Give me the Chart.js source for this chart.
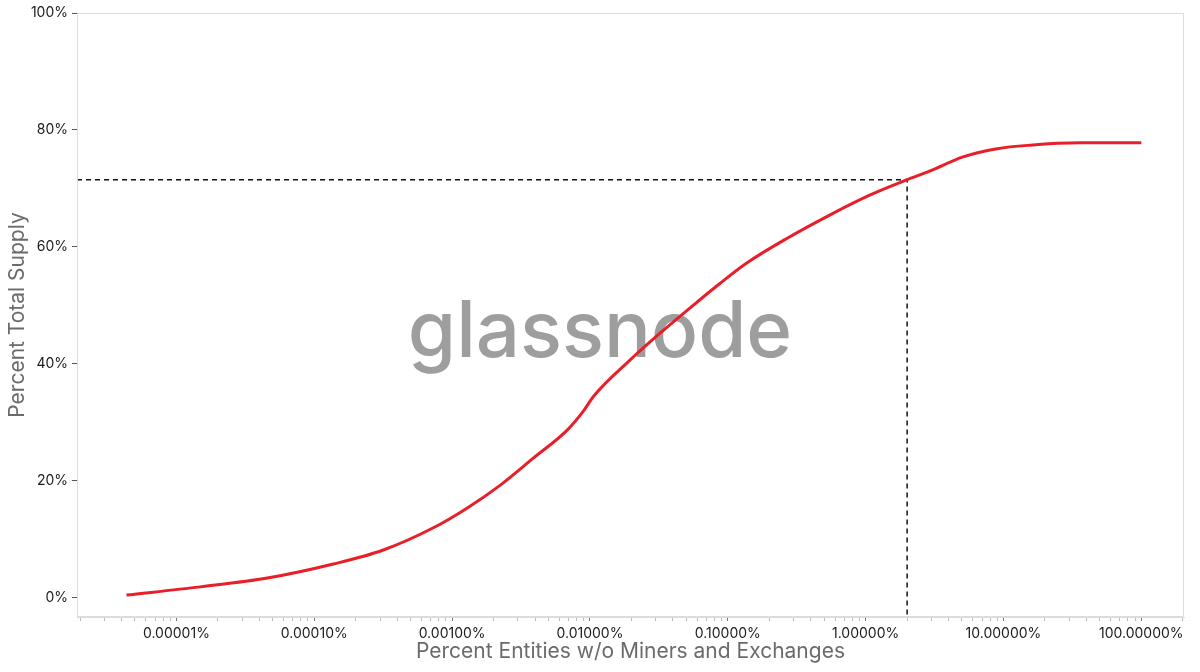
<!DOCTYPE html>
<html>
<head>
<meta charset="utf-8">
<script src="https://cdn.jsdelivr.net/npm/chart.js@4"></script>
<style>
  html, body { margin: 0; padding: 0; background: #fff; }
  #wrap { width: 1200px; height: 672px; }
</style>
</head>
<body>
<div id="wrap"><canvas id="supplyChart"></canvas></div>
<script>
// share of entities (% , log scale) vs cumulative share of supply (%)
const entityPct = [4.34e-6, 1.49e-5, 4.57e-5, 1.375e-4, 3.17e-4, 7.31e-4, 1.29e-3, 2.24e-3,
                   3.88e-3, 6.84e-3, 8.93e-3, 0.01057, 0.0196, 0.0324, 0.060, 0.0881, 0.138,
                   0.270, 0.553, 1.08, 2.0, 2.94, 5.09, 8.99, 15.6, 35.9, 100];
const supplyPct = [0.5, 1.9, 3.4, 5.8, 8.2, 12.0, 15.4, 19.3,
                   23.9, 28.7, 31.9, 34.4, 40.7, 45.3, 50.6, 53.8, 57.3,
                   61.5, 65.5, 68.9, 71.5, 73.0, 75.4, 76.8, 77.4, 77.8, 77.8];

// marked point: top 2% of entities hold ~71.5% of supply
const markX = 2.0;
const markY = 71.5;

const xMin = 1.9e-6, xMax = 204;
const yMin = -3.25, yMax = 100;
const yTicks = [0, 20, 40, 60, 80, 100];

Chart.defaults.font.family = 'Inter, "Noto Sans", sans-serif';

const isDecade = v => Math.abs(Math.log10(v) - Math.round(Math.log10(v))) < 1e-9;

const frame = {
    id: 'frame',
    beforeDatasetsDraw(chart) {
        const { ctx } = chart;
        ctx.save();
        ctx.fillStyle = '#9e9e9e';
        ctx.font = '500 78px Inter, sans-serif';
        ctx.textAlign = 'center';
        ctx.textBaseline = 'alphabetic';
        ctx.fillText('glassnode', 600, 357);
        ctx.restore();
    },
    afterDraw(chart) {
        const { ctx, chartArea: a } = chart;
        ctx.save();
        ctx.strokeStyle = '#dcdcdc';
        ctx.lineWidth = 1;
        ctx.strokeRect(a.left + 0.5, a.top + 0.5, a.right - a.left - 1, a.bottom - a.top - 1);
        ctx.restore();
    },
};

new Chart(document.getElementById('supplyChart'), {
    type: 'line',
    data: {
        datasets: [
            {
                data: entityPct.map((x, i) => ({ x, y: supplyPct[i] })),
                borderColor: 'rgb(232,30,40)',
                borderWidth: 3,
                pointRadius: 0,
                cubicInterpolationMode: 'monotone',
                fill: false,
            },
            {
                data: [{ x: xMin, y: markY }, { x: markX, y: markY }, { x: markX, y: yMin }],
                borderColor: '#111',
                borderWidth: 1.5,
                borderDash: [5, 4],
                pointRadius: 0,
                tension: 0,
                fill: false,
            },
        ],
    },
    options: {
        responsive: true,
        maintainAspectRatio: false,
        animation: false,
        layout: { padding: { top: 13, right: 16, left: 0, bottom: 0 } },
        plugins: { legend: { display: false }, tooltip: { enabled: false } },
        scales: {
            x: {
                type: 'logarithmic',
                min: xMin,
                max: xMax,
                afterBuildTicks: scale => {
                    const ticks = [];
                    for (let e = -7; e <= 3; e++) {
                        for (let m = 1; m <= 9; m++) {
                            const v = m * Math.pow(10, e);
                            if (v >= xMin && v <= xMax) ticks.push({ value: v });
                        }
                    }
                    scale.ticks = ticks;
                },
                afterFit: scale => { scale.height = 55; },
                border: { display: true, color: '#dcdcdc' },
                grid: {
                    drawOnChartArea: false,
                    drawTicks: true,
                    tickLength: 4,
                    tickColor: ctx => (ctx.tick && isDecade(ctx.tick.value) ? '#777' : '#bbb'),
                },
                ticks: {
                    autoSkip: false,
                    maxRotation: 0,
                    padding: 4,
                    color: '#1a1a1a',
                    font: { size: 14 },
                    callback: v => (isDecade(v) ? v.toFixed(5) + '%' : ''),
                },
                title: {
                    display: true,
                    text: 'Percent Entities w/o Miners and Exchanges',
                    color: '#6b6b6b',
                    font: { size: 21 },
                    padding: { top: 4, bottom: 8 },
                },
            },
            y: {
                min: yMin,
                max: yMax,
                afterBuildTicks: scale => { scale.ticks = yTicks.map(value => ({ value })); },
                afterFit: scale => { scale.width = 77; },
                border: { display: true, color: '#dcdcdc' },
                grid: { drawOnChartArea: false, drawTicks: true, tickLength: 5, tickColor: '#555' },
                ticks: {
                    padding: 4,
                    color: '#1a1a1a',
                    font: { size: 14 },
                    callback: v => v + '%',
                },
                title: {
                    display: true,
                    text: 'Percent Total Supply',
                    color: '#6b6b6b',
                    font: { size: 21 },
                    padding: { top: 5, bottom: 0 },
                },
            },
        },
    },
    plugins: [frame],
});
</script>
</body>
</html>
